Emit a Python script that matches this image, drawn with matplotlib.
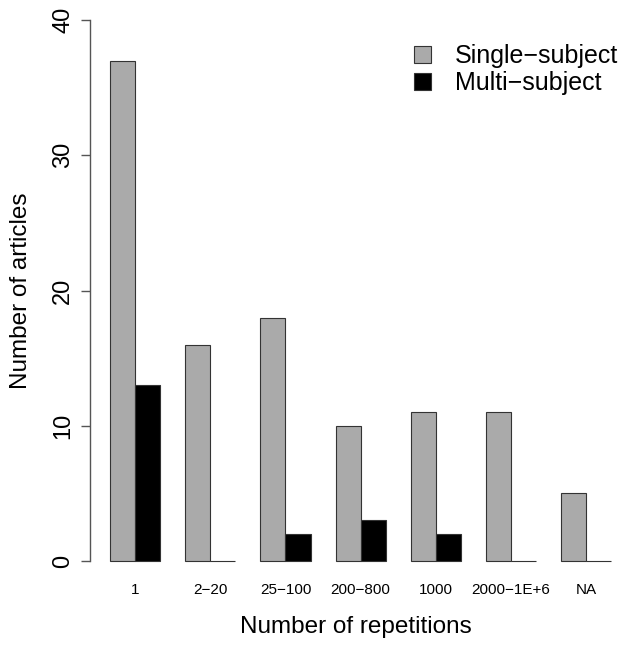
import matplotlib
matplotlib.use("Agg")
import matplotlib.pyplot as plt
import numpy as np

CATEGORIES = ["1", "2\u221220", "25\u2212100", "200\u2212800", "1000", "2000\u22121E+6", "NA"]
SINGLE = [37, 16, 18, 10, 11, 11, 5]
MULTI = [13, 0, 2, 3, 2, 0, 0]
Y_TICKS = [0, 10, 20, 30, 40]

plt.rcParams.update({
    "font.family": "sans-serif",
    "font.sans-serif": ["Liberation Sans", "DejaVu Sans"],
})

W, H = 629, 652
fig = plt.figure(figsize=(W / 100, H / 100), dpi=100)
# plot region (pixels): y axis at x=90, value 0 at y=561, value 40 at y=20
ax = fig.add_axes([90 / W, 1 - 561 / H, 535 / W, 541 / H])

# R barplot(beside=TRUE) layout: two unit-wide bars per group, one unit gap
x = np.arange(len(CATEGORIES)) * 3 + 1.0
ax.bar(x, SINGLE, width=1, align="edge", color="#aaaaaa", edgecolor="#333333",
       lw=0.8, clip_on=False, label="Single\u2212subject")
ax.bar(x + 1, MULTI, width=1, align="edge", color="black", edgecolor="#333333",
       lw=0.8, clip_on=False, label="Multi\u2212subject")

ax.set_xlim(0.2, 0.2 + 535 / 25.06)
ax.set_ylim(0, 40)

ax.set_xticks(x + 1)
ax.set_xticklabels(CATEGORIES, fontsize=11)
ax.tick_params(axis="x", length=0, pad=16)

ax.set_yticks(Y_TICKS)
ax.set_yticklabels([str(v) for v in Y_TICKS], fontsize=17, rotation=90, va="center")
ax.tick_params(axis="y", length=6.5, width=1, color="#555555", pad=5)

for sp in ("top", "right", "bottom"):
    ax.spines[sp].set_visible(False)
ax.spines["left"].set_color("#555555")
ax.spines["left"].set_linewidth(1)

fig.text(21 / W, 1 - 290.5 / H, "Number of articles", rotation=90,
         ha="center", va="center", fontsize=17.5)
fig.text(356 / W, 1 - 627 / H, "Number of repetitions",
         ha="center", va="center", fontsize=17.5)

ax.legend(loc="upper left", bbox_to_anchor=(414 / W, 1 - 44 / H),
          bbox_transform=fig.transFigure, frameon=False, fontsize=18,
          borderpad=0, borderaxespad=0, handlelength=0.68, handleheight=0.68,
          handletextpad=0.96, labelspacing=0.12)

fig.savefig("out.png", dpi=100)
